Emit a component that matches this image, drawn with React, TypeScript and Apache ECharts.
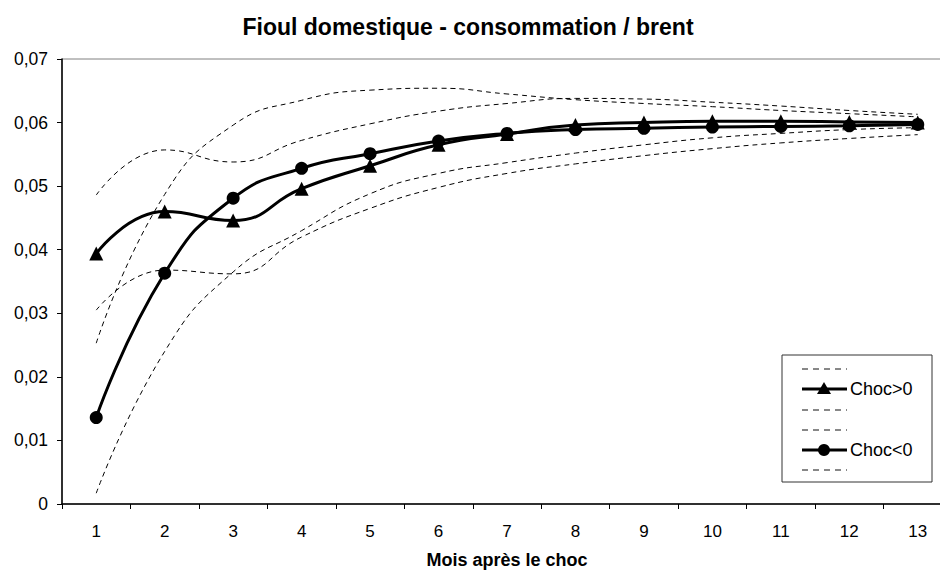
import React, { useEffect, useRef } from "react";
import * as echarts from "echarts";

const categories = ["1", "2", "3", "4", "5", "6", "7", "8", "9", "10", "11", "12", "13"];
const chocPos = [0.0394, 0.046, 0.0446, 0.0496, 0.0532, 0.0565, 0.0582, 0.0596, 0.06, 0.0602, 0.0602, 0.0601, 0.06];
const chocNeg = [0.0136, 0.0363, 0.0481, 0.0528, 0.0551, 0.0571, 0.0583, 0.0589, 0.0591, 0.0593, 0.0594, 0.0595, 0.0597];
const chocPosUpper = [0.0486, 0.0557, 0.0538, 0.0572, 0.0598, 0.0618, 0.063, 0.0638, 0.0637, 0.0632, 0.0626, 0.0619, 0.0613];
const chocPosLower = [0.0305, 0.0368, 0.0362, 0.042, 0.0465, 0.0498, 0.052, 0.0535, 0.0548, 0.0559, 0.0568, 0.0575, 0.0581];
const chocNegUpper = [0.0253, 0.0487, 0.0596, 0.0635, 0.0651, 0.0654, 0.0645, 0.0636, 0.063, 0.0625, 0.0619, 0.0614, 0.0609];
const chocNegLower = [0.0017, 0.024, 0.0365, 0.043, 0.0488, 0.052, 0.0537, 0.0552, 0.0565, 0.0576, 0.0583, 0.0589, 0.0592];
const yTicks = { min: 0, max: 0.07, interval: 0.01 };
const title = "Fioul domestique - consommation / brent";
const xName = "Mois après le choc";
const legendNames = ["", "Choc>0", "", "", "Choc<0", ""];

const FONT = "'Liberation Sans', Arial, sans-serif";

export default function App() {
  const ref = useRef<HTMLDivElement>(null);
  useEffect(() => {
    if (!ref.current) return;
    const chart = echarts.init(ref.current, null, { renderer: "svg" });
    const dashed = (name: string, data: number[]) => ({
      name,
      type: "line",
      data,
      smooth: 0.5,
      symbol: "none",
      z: 2,
      lineStyle: { color: "#000", width: 1, type: [5, 4] },
    });
    const main = (name: string, data: number[], symbol: string, size: number) => ({
      name,
      type: "line",
      data,
      smooth: 0.5,
      symbol,
      symbolSize: size,
      showAllSymbol: true,
      z: 5,
      lineStyle: { color: "#000", width: 3 },
      itemStyle: { color: "#000" },
    });

    const lx1 = 802, lx2 = 847, tx = 850;
    const rows = [369, 389, 410, 430, 450, 470];
    const legendEls: any[] = [
      {
        type: "rect",
        shape: { x: 782, y: 355, width: 150, height: 127 },
        style: { fill: "#fff", stroke: "#333", lineWidth: 1 },
        z: 10,
      },
    ];
    rows.forEach((y, i) => {
      const name = legendNames[i];
      if (name === "") {
        legendEls.push({
          type: "line",
          shape: { x1: lx1, y1: y, x2: lx2, y2: y },
          style: { stroke: "#111", lineWidth: 1, lineDash: [6, 5] },
          z: 11,
        });
      } else {
        legendEls.push({
          type: "line",
          shape: { x1: lx1, y1: y, x2: lx2, y2: y },
          style: { stroke: "#000", lineWidth: 3 },
          z: 11,
        });
        if (name === "Choc>0") {
          legendEls.push({
            type: "polygon",
            shape: { points: [[824, y - 7], [817, y + 5], [831, y + 5]] },
            style: { fill: "#000" },
            z: 12,
          });
        } else {
          legendEls.push({
            type: "circle",
            shape: { cx: 824, cy: y, r: 6 },
            style: { fill: "#000" },
            z: 12,
          });
        }
        legendEls.push({
          type: "text",
          x: tx,
          y: y,
          style: {
            text: name,
            fontFamily: FONT,
            fontSize: 18,
            fill: "#000",
            textVerticalAlign: "middle",
            textAlign: "left",
          },
          z: 12,
        });
      }
    });

    chart.setOption({
      animation: false,
      backgroundColor: "#fff",
      textStyle: { fontFamily: FONT },
      grid: {
        left: 62,
        top: 59,
        width: 890,
        height: 445,
        show: true,
        outerBoundsMode: "none",
        containLabel: false,
        borderColor: "#808080",
        borderWidth: 1,
        backgroundColor: "transparent",
      },
      xAxis: {
        type: "category",
        data: categories,
        boundaryGap: true,
        name: xName,
        nameLocation: "middle",
        nameGap: 47,
        nameTextStyle: { fontFamily: FONT, fontSize: 18, fontWeight: "bold", color: "#000", lineHeight: 18 },
        axisLine: { lineStyle: { color: "#000", width: 1.5 } },
        axisTick: { show: true, alignWithLabel: false, length: 5, lineStyle: { color: "#000" } },
        axisLabel: { fontFamily: FONT, fontSize: 17, color: "#000", margin: 19 },
        splitLine: { show: false },
      },
      yAxis: {
        type: "value",
        min: yTicks.min,
        max: yTicks.max,
        interval: yTicks.interval,
        axisLine: { show: true, lineStyle: { color: "#000", width: 1.5 } },
        axisTick: { show: true, length: 5, lineStyle: { color: "#000" } },
        axisLabel: {
          fontFamily: FONT,
          fontSize: 17.5,
          color: "#000",
          margin: 14,
          formatter: (v: number) => (v === 0 ? "0" : v.toFixed(2).replace(".", ",")),
        },
        splitLine: { show: false },
      },
      graphic: [
        {
          type: "text",
          x: 468,
          y: 27,
          style: {
            text: title,
            fontFamily: FONT,
            fontSize: 23,
            fontWeight: "bold",
            fill: "#000",
            textAlign: "center",
            textVerticalAlign: "middle",
          },
        },
        ...legendEls,
      ],
      series: [
        dashed("Choc>0 haut", chocPosUpper),
        main("Choc>0", chocPos, "triangle", 14),
        dashed("Choc>0 bas", chocPosLower),
        dashed("Choc<0 haut", chocNegUpper),
        main("Choc<0", chocNeg, "circle", 13),
        dashed("Choc<0 bas", chocNegLower),
      ],
    });
    return () => chart.dispose();
  }, []);
  return (
    <div
      style={{ position: "fixed", left: 0, top: 0, width: 940, height: 571, overflow: "hidden", background: "#fff" }}
    >
      <div ref={ref} style={{ width: 960, height: 571 }} />
    </div>
  );
}
